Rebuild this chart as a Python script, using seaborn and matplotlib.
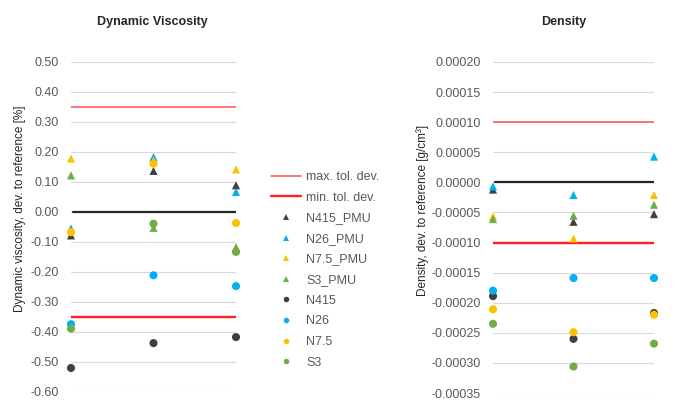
import matplotlib
matplotlib.use("Agg")
import matplotlib.pyplot as plt
from matplotlib.lines import Line2D
import seaborn as sns
import pandas as pd
import numpy as np

# ---------------- data ----------------
positions = [0, 1, 2]
series_names = ["N415_PMU", "N26_PMU", "N7.5_PMU", "S3_PMU", "N415", "N26", "N7.5", "S3"]

visc_N415_PMU = [-0.078, 0.137, 0.089]
visc_N26_PMU = [-0.055, 0.183, 0.067]
visc_N75_PMU = [0.178, 0.172, 0.142]
visc_S3_PMU = [0.122, -0.053, -0.117]
visc_N415 = [-0.520, -0.437, -0.417]
visc_N26 = [-0.374, -0.211, -0.247]
visc_N75 = [-0.067, 0.161, -0.037]
visc_S3 = [-0.389, -0.039, -0.133]
visc_tol = 0.35

dens_N415_PMU = [-0.000012, -0.0000655, -0.0000528]
dens_N26_PMU = [-0.0000067, -0.000021, 0.0000428]
dens_N75_PMU = [-0.0000567, -0.0000933, -0.000021]
dens_S3_PMU = [-0.000061, -0.0000555, -0.0000372]
dens_N415 = [-0.000189, -0.000260, -0.000217]
dens_N26 = [-0.000180, -0.000159, -0.000159]
dens_N75 = [-0.000211, -0.000249, -0.000220]
dens_S3 = [-0.000235, -0.000306, -0.000268]
dens_tol = 0.0001

visc_ticks = [0.50, 0.40, 0.30, 0.20, 0.10, 0.00, -0.10, -0.20, -0.30, -0.40, -0.50, -0.60]
dens_ticks = [0.00020, 0.00015, 0.00010, 0.00005, 0.00000, -0.00005, -0.00010,
              -0.00015, -0.00020, -0.00025, -0.00030, -0.00035]

# ---------------- style ----------------
sns.set_theme(style="white")
plt.rcParams["font.family"] = ["Liberation Sans", "DejaVu Sans"]
plt.rcParams["axes.unicode_minus"] = False

colors = {"N415_PMU": "#404040", "N26_PMU": "#00B0F0", "N7.5_PMU": "#FFC000", "S3_PMU": "#70AD47",
          "N415": "#404040", "N26": "#00B0F0", "N7.5": "#FFC000", "S3": "#70AD47"}
markers = {"N415_PMU": "^", "N26_PMU": "^", "N7.5_PMU": "^", "S3_PMU": "^",
           "N415": "o", "N26": "o", "N7.5": "o", "S3": "o"}
max_color = "#FF5050"
min_color = "#FF2020"
grid_color = "#D9D9D9"
tick_color = "#595959"


def long_frame(vals):
    rows = []
    for name, v in zip(series_names, vals):
        for p, y in zip(positions, v):
            rows.append({"pos": p, "value": y, "series": name})
    return pd.DataFrame(rows)


df_visc = long_frame([visc_N415_PMU, visc_N26_PMU, visc_N75_PMU, visc_S3_PMU,
                      visc_N415, visc_N26, visc_N75, visc_S3])
df_dens = long_frame([dens_N415_PMU, dens_N26_PMU, dens_N75_PMU, dens_S3_PMU,
                      dens_N415, dens_N26, dens_N75, dens_S3])

fig = plt.figure(figsize=(6.73, 4.01), dpi=100)
ax1 = fig.add_axes([71 / 673, 1 - 392 / 401, 165 / 673, 330 / 401])
ax2 = fig.add_axes([493 / 673, 1 - 393 / 401, 161 / 673, 331 / 401])


def draw(ax, df, tol, ticks, fmt, ylabel, title, title_x):
    ax.set_xlim(0, 2)
    ax.set_ylim(ticks[-1], ticks[0])
    for t in ticks:
        ax.axhline(t, color=grid_color, lw=0.8, zorder=0)
    tol_df = pd.DataFrame({"pos": positions * 2,
                           "value": [tol] * 3 + [-tol] * 3,
                           "kind": ["max"] * 3 + ["min"] * 3})
    sns.lineplot(data=tol_df[tol_df.kind == "max"], x="pos", y="value", ax=ax,
                 color=max_color, lw=1.1, zorder=2, legend=False)
    sns.lineplot(data=tol_df[tol_df.kind == "min"], x="pos", y="value", ax=ax,
                 color=min_color, lw=1.7, zorder=2, legend=False)
    ax.axhline(0, color="#262626", lw=1.6, zorder=2, xmin=0.015)
    sns.scatterplot(data=df, x="pos", y="value", hue="series", style="series",
                    palette=colors, markers=markers, hue_order=series_names,
                    style_order=series_names, s=34, edgecolor="none", linewidth=0,
                    ax=ax, legend=False, zorder=3, clip_on=False)
    ax.set_yticks(ticks)
    ax.set_yticklabels([fmt.format(t) for t in ticks], color=tick_color, fontsize=9)
    ax.set_xticks([])
    ax.tick_params(axis="y", length=0, pad=9)
    for sp in ax.spines.values():
        sp.set_visible(False)
    ax.set_xlabel("")
    ax.set_ylabel(ylabel, fontsize=8.5, color="#262626")
    ax.set_facecolor("none")
    fig.text(title_x, 1 - 22 / 401, title, fontsize=9, fontweight="bold",
             color="#262626", ha="center", va="center")


draw(ax1, df_visc, visc_tol, visc_ticks, "{:.2f}",
     "Dynamic viscosity, dev. to reference [%]", "Dynamic Viscosity", 152 / 673)
draw(ax2, df_dens, dens_tol, dens_ticks, "{:.5f}",
     "Density, dev. to reference [g/cm³]", "Density", 564 / 673)
ax1.yaxis.set_label_coords(-0.275, 0.555)
ax2.yaxis.set_label_coords(-0.40, 0.553)

handles = [Line2D([], [], color=max_color, lw=1.1, label="max. tol. dev."),
           Line2D([], [], color=min_color, lw=1.7, label="min. tol. dev.")]
for name in series_names:
    handles.append(Line2D([], [], ls="none", marker=markers[name], color=colors[name],
                          markersize=4, markeredgewidth=0, label=name))
leg = fig.legend(handles=handles, loc="upper left", bbox_to_anchor=(271 / 673, 1 - 171 / 401),
                 frameon=False, fontsize=9, handlelength=2.4, handletextpad=0.4,
                 labelspacing=0.69, borderaxespad=0, borderpad=0)
for t in leg.get_texts():
    t.set_color(tick_color)

fig.savefig("out.png", dpi=100)
